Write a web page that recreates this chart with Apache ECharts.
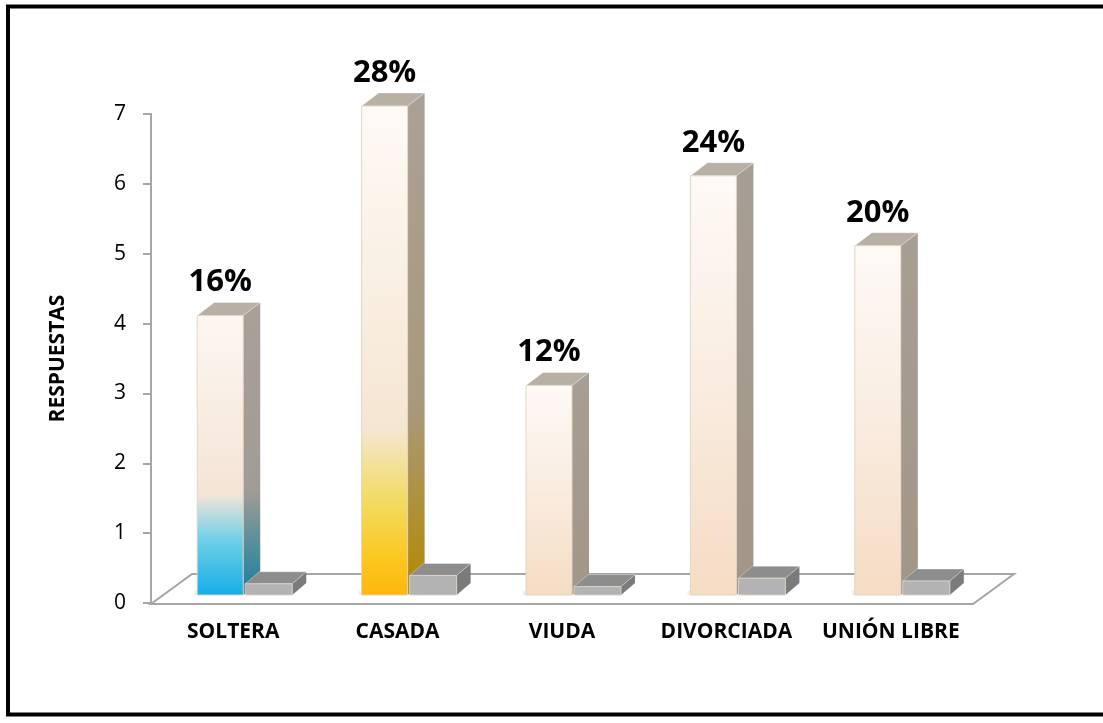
<!DOCTYPE html>
<html>
<head>
<meta charset="utf-8">
<script src="https://cdn.jsdelivr.net/npm/echarts@6/dist/echarts.min.js"></script>
<style>
  html, body { margin: 0; padding: 0; background: #fff; }
  #chart { width: 1103px; height: 723px; }
</style>
</head>
<body>
<div id="chart"></div>
<script>
// Estado civil de las encuestadas
const categories = ['SOLTERA', 'CASADA', 'VIUDA', 'DIVORCIADA', 'UNIÓN LIBRE'];
const respuestas = [4, 7, 3, 6, 5];
const porcentajes = [0.16, 0.28, 0.12, 0.24, 0.20];
const yTicks = [0, 1, 2, 3, 4, 5, 6, 7];

// --- pseudo-3D geometry (pixels) ---
const BAR_DEPTH = [17, -13];     // side/top face offset of each column
const FLOOR_DEPTH = [41, -30];   // depth of the floor plane
const LIFT = 8;                  // columns stand slightly behind the floor's front edge

function grad(stops) {
  return { type: 'linear', x: 0, y: 0, x2: 0, y2: 1, colorStops: stops.map(s => ({ offset: s[0], color: s[1] })) };
}

const plainFront = grad([[0, '#fefaf6'], [0.5, '#f9ece0'], [1, '#f5dcc3']]);
const plainSide = grad([[0, '#a79e95'], [1, '#a29687']]);
const frontFills = [
  grad([[0, '#fdf7f1'], [0.64, '#f4e4d6'], [0.8, '#6fd0e8'], [1, '#17ade6']]),
  grad([[0, '#fefaf6'], [0.66, '#f5e6d2'], [0.8, '#f2dc66'], [0.92, '#fbc822'], [1, '#fdb70d']]),
  plainFront, plainFront, plainFront
];
const sideFills = [
  grad([[0, '#a9a097'], [0.64, '#a19c96'], [1, '#16809f']]),
  grad([[0, '#aaa196'], [0.62, '#a8997c'], [1, '#b48900']]),
  plainSide, plainSide, plainSide
];
const TOP_FILL = '#b8afa5';

function box(x0, x1, yt, yb, front, side, top, d) {
  const [dx, dy] = d;
  return [
    { type: 'polygon', shape: { points: [[x1, yt], [x1 + dx, yt + dy], [x1 + dx, yb + dy], [x1, yb]] }, style: { fill: side } },
    { type: 'polygon', shape: { points: [[x0, yt], [x0 + dx, yt + dy], [x1 + dx, yt + dy], [x1, yt]] }, style: { fill: top, stroke: 'rgba(255,255,255,0.35)', lineWidth: 1 } },
    { type: 'rect', shape: { x: x0, y: yt, width: x1 - x0, height: yb - yt }, style: { fill: front, stroke: 'rgba(225,210,195,0.9)', lineWidth: 1 } }
  ];
}

function renderRespuestas(params, api) {
  const i = api.value(0);
  const base = api.coord([i, 0]);
  const top = api.coord([i, api.value(1)]);
  const band = api.size([1, 0])[0];
  const x0 = base[0] - band * 0.219;
  const x1 = base[0] + band * 0.061;
  const yb = base[1] - LIFT;
  const yt = top[1] - LIFT;
  const children = [];
  if (params.dataIndex === 0) {
    const cs = params.coordSys;
    const fy = cs.y + cs.height + 1;
    const fl = cs.x, fr = cs.x + cs.width;
    children.push({
      type: 'polygon', z2: -10,
      shape: { points: [[fl, fy], [fr, fy], [fr + FLOOR_DEPTH[0], fy + FLOOR_DEPTH[1]], [fl + FLOOR_DEPTH[0], fy + FLOOR_DEPTH[1]]] },
      style: { fill: '#ffffff', stroke: '#a6a6a6', lineWidth: 2 }
    });
  }
  // soft shadow on the floor
  children.push({
    type: 'rect', z2: -5,
    shape: { x: x0 - 3, y: yb - 4, width: x1 - x0, height: 4 },
    style: { fill: 'rgba(140,140,140,0.12)', shadowBlur: 8, shadowColor: 'rgba(0,0,0,0.22)' }
  });
  children.push(...box(x0, x1, yt, yb, frontFills[i], sideFills[i], TOP_FILL, BAR_DEPTH));
  children.push({
    type: 'text',
    style: {
      x: (x0 + x1) / 2, y: yt - 33,
      text: Math.round(porcentajes[i] * 100) + '%',
      align: 'center', verticalAlign: 'middle',
      fill: '#000', font: 'bold 31px "Open Sans"'
    }
  });
  return { type: 'group', children };
}

function renderPorcentajes(params, api) {
  const i = api.value(0);
  const base = api.coord([i, 0]);
  const top = api.coord([i, api.value(1)]);
  const band = api.size([1, 0])[0];
  const x0 = base[0] + band * 0.073;
  const x1 = base[0] + band * 0.359;
  const yb = base[1] - LIFT;
  const yt = top[1] - LIFT;
  return { type: 'group', children: box(x0, x1, yt, yb, '#b3b3b3', '#7b7b7b', '#8d8d8d', [14, -12]) };
}

const chart = echarts.init(document.getElementById('chart'), null, { renderer: 'canvas' });
chart.setOption({
  backgroundColor: '#ffffff',
  animation: false,
  grid: { left: 151, right: 130, top: 114, bottom: 120, containLabel: false, outerBoundsMode: 'none' },
  xAxis: {
    type: 'category',
    data: categories,
    axisLine: { show: false },
    axisTick: { show: false },
    axisLabel: { interval: 0, margin: 19, color: '#000', fontFamily: 'Open Sans', fontWeight: 'bold', fontSize: 21 }
  },
  yAxis: {
    type: 'value',
    min: yTicks[0],
    max: yTicks[yTicks.length - 1],
    interval: yTicks[1] - yTicks[0],
    name: 'RESPUESTAS',
    nameLocation: 'middle',
    nameRotate: 90,
    nameGap: 82,
    nameTextStyle: { color: '#000', fontFamily: 'Open Sans', fontWeight: 'bold', fontSize: 21 },
    axisLine: { show: true, lineStyle: { color: '#a6a6a6', width: 2 } },
    axisTick: { show: true, length: 8, lineStyle: { color: '#a6a6a6', width: 2 } },
    splitLine: { show: false },
    axisLabel: { margin: 25, color: '#000', fontFamily: 'Open Sans', fontSize: 21 }
  },
  series: [
    {
      name: 'Respuestas',
      type: 'custom',
      renderItem: renderRespuestas,
      data: respuestas.map((v, i) => [i, v])
    },
    {
      name: 'Porcentaje',
      type: 'custom',
      renderItem: renderPorcentajes,
      data: porcentajes.map((v, i) => [i, v])
    }
  ],
  graphic: [{
    type: 'rect', silent: true, z: 100,
    shape: { x: 8, y: 6.5, width: 1110, height: 708 },
    style: { fill: 'none', stroke: '#000', lineWidth: 4 }
  }]
});
</script>
</body>
</html>
